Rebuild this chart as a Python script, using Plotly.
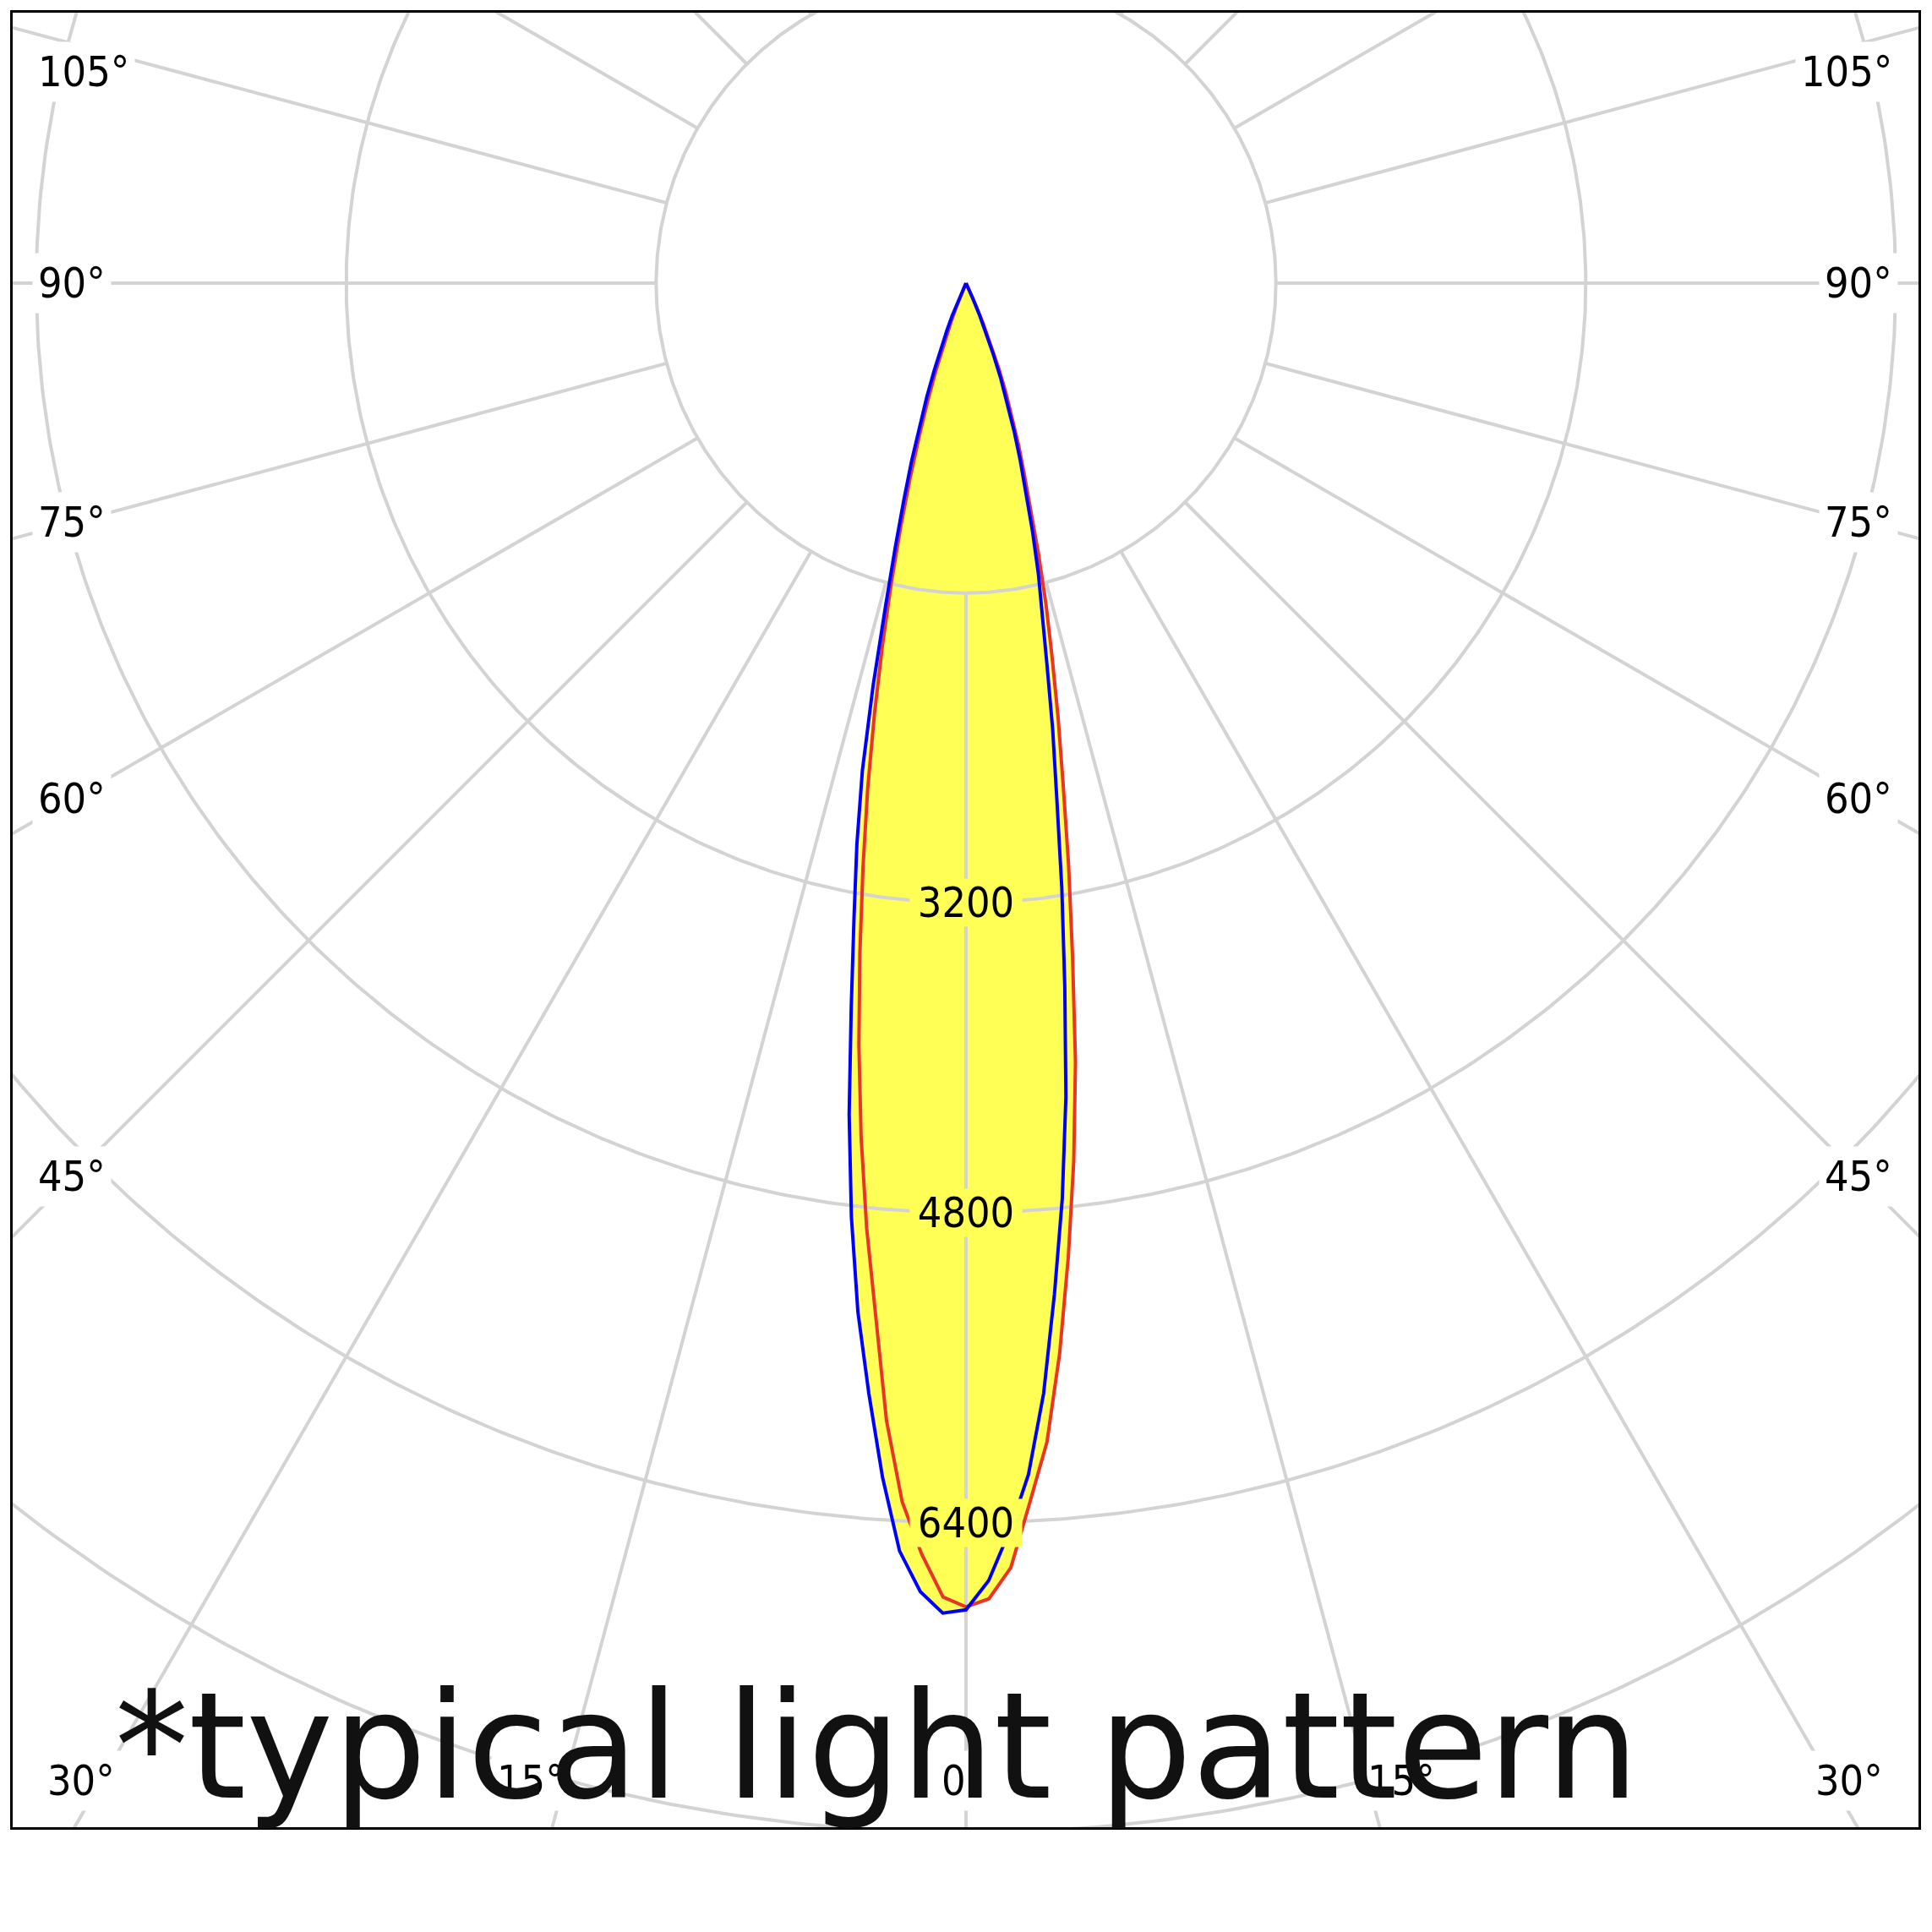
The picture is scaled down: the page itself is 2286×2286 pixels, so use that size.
import numpy as np
import plotly.graph_objects as go

# ---------------- data (candela) ----------------
ANGLES = [0, 1, 2, 3, 4, 5, 6, 7, 8, 9, 10, 11, 12, 13, 14, 15, 16, 17, 18, 19,
          20, 21, 22, 23, 24, 25, 30, 45, 60, 75, 90]
RED_RIGHT = [6835, 6794, 6636, 6303, 5997, 5548, 5055, 4566, 4062, 3517, 3051, 2625,
             2284, 1972, 1706, 1444, 1208, 1026, 878, 733, 603, 472, 350, 230, 110, 0,
             0, 0, 0, 0, 0]
RED_LEFT = [6835, 6785, 6565, 6300, 5886, 5358, 4906, 4443, 3973, 3502, 3062, 2660,
            2272, 1916, 1592, 1302, 1046, 827, 641, 477, 330, 220, 130, 60, 0, 0,
            0, 0, 0, 0, 0]
BLUE_RIGHT = [6850, 6700, 6447, 6160, 5747, 5240, 4755, 4233, 3665, 3163, 2699, 2345,
              2009, 1760, 1543, 1327, 1112, 959, 805, 663, 528, 393, 280, 180, 80, 0,
              0, 0, 0, 0, 0]
BLUE_LEFT = [6850, 6868, 6760, 6555, 6180, 5755, 5340, 4856, 4335, 3788, 3330, 2953,
             2573, 2130, 1714, 1408, 1163, 962, 771, 622, 480, 350, 260, 182, 90, 0,
             0, 0, 0, 0, 0]

RADIAL_GRID = [1600, 3200, 4800, 6400, 8000, 9600]
RADIAL_LABELS = [3200, 4800, 6400]
SPOKE_STEP = 15
ANGLE_LABELS = [0, 15, 30, 45, 60, 75, 90, 105]
CAPTION = "*typical light pattern"

# ---------------- styling / geometry (page pixels) ----------------
OFF = 8                # default body margin of the html page
W = H = 2286 - 2 * OFF
K = 0.22917            # px per candela
CX, CY = 1143, 335     # pole position in page px
PLOT_L, PLOT_R, PLOT_T, PLOT_B = 15, 2270, 15, 2162   # plot area in page px
YELLOW = "#ffff55"
RED = "#e8342a"
BLUE = "#0000ff"
GRID = "#d3d3d3"
LABEL_FONT = "DejaVu Sans Condensed, DejaVu Sans, sans-serif"


def px2d(px, py):
    return (px - CX) / K, (CY - py) / K


def polar_xy(angles_deg, values):
    t = np.radians(np.asarray(angles_deg, dtype=float))
    v = np.asarray(values, dtype=float)
    return v * np.sin(t), -v * np.cos(t)


def full_curve(left, right):
    ang = [-a for a in reversed(ANGLES)] + ANGLES[1:]
    val = list(reversed(left)) + right[1:]
    return polar_xy(ang, val)


xr = [px2d(PLOT_L, 0)[0], px2d(PLOT_R, 0)[0]]
yr = [px2d(0, PLOT_B)[1], px2d(0, PLOT_T)[1]]

fig = go.Figure()

red_x, red_y = full_curve(RED_LEFT, RED_RIGHT)
blue_x, blue_y = full_curve(BLUE_LEFT, BLUE_RIGHT)

# yellow fills
for cx_, cy_ in ((red_x, red_y), (blue_x, blue_y)):
    fig.add_trace(go.Scatter(x=cx_, y=cy_, mode="lines", fill="toself",
                             fillcolor=YELLOW, line=dict(width=0, color=YELLOW),
                             hoverinfo="skip"))

# grid circles
th = np.linspace(0, 360, 721)
gx, gy = [], []
for r in RADIAL_GRID:
    x, y = polar_xy(th, [r] * len(th))
    gx += list(x) + [None]
    gy += list(y) + [None]
# spokes (start at first circle)
for a in range(0, 360, SPOKE_STEP):
    x, y = polar_xy([a, a], [RADIAL_GRID[0], 20000])
    gx += list(x) + [None]
    gy += list(y) + [None]
fig.add_trace(go.Scatter(x=gx, y=gy, mode="lines",
                         line=dict(color=GRID, width=4), hoverinfo="skip"))

# outlines
fig.add_trace(go.Scatter(x=red_x, y=red_y, mode="lines",
                         line=dict(color=RED, width=4), hoverinfo="skip"))
fig.add_trace(go.Scatter(x=blue_x, y=blue_y, mode="lines",
                         line=dict(color=BLUE, width=4), hoverinfo="skip"))

annotations = []
# radial labels on the 0° spoke
for r in RADIAL_LABELS:
    annotations.append(dict(x=0, y=-r, xref="x", yref="y", text=str(r),
                            showarrow=False, xanchor="center", yanchor="middle",
                            font=dict(family=LABEL_FONT, size=50, color="black"),
                            bgcolor=YELLOW, width=132, height=56, borderpad=0))

# angle labels
SIDE_DX = 1057
TOP_Y, BOT_Y = 85, 2107
PAD = 6
for a in ANGLE_LABELS:
    txt = f"{a}°"
    if a >= 30:
        dy = SIDE_DX / np.tan(np.radians(a)) if a != 90 else 0.0
        py_raw = CY + dy
        py = min(max(py_raw, TOP_Y), BOT_Y)
        inset = 11 if py_raw > BOT_Y else 0
        for side in (-1, 1):
            px = (38 + inset) if side < 0 else (2246 - inset)
            x, y = px2d(px, py)
            annotations.append(dict(x=x, y=y, xref="x", yref="y", text=txt,
                                    showarrow=False,
                                    xanchor="left" if side < 0 else "right",
                                    yanchor="middle",
                                    font=dict(family=LABEL_FONT, size=50, color="black"),
                                    bgcolor="white", borderpad=PAD))
    else:
        dxp = (BOT_Y - CY) * np.tan(np.radians(a))
        sides = (0,) if a == 0 else (-1, 1)
        for side in sides:
            px = CX + side * (dxp - PAD - 1) if side != 0 else CX - 4
            x, y = px2d(px, BOT_Y)
            anchor = "center" if side == 0 else ("right" if side < 0 else "left")
            annotations.append(dict(x=x, y=y, xref="x", yref="y", text=txt,
                                    showarrow=False, xanchor=anchor, yanchor="middle",
                                    font=dict(family=LABEL_FONT, size=50, color="black"),
                                    bgcolor="white", borderpad=PAD))

# caption
cxp, cyp = px2d(134, 2066)
annotations.append(dict(x=cxp, y=cyp, xref="x", yref="y", text=CAPTION,
                        showarrow=False, xanchor="left", yanchor="middle",
                        font=dict(family="DejaVu Sans, sans-serif", size=174,
                                  color="#111111")))

axis_common = dict(showgrid=False, zeroline=False, showticklabels=False, ticks="",
                   showline=True, mirror=True, linecolor="black", linewidth=3,
                   fixedrange=True)
fig.update_layout(
    width=W, height=H,
    margin=dict(l=PLOT_L - OFF, r=W - (PLOT_R - OFF), t=PLOT_T - OFF,
                b=H - (PLOT_B - OFF), pad=0, autoexpand=False),
    paper_bgcolor="white", plot_bgcolor="white",
    showlegend=False, hovermode=False,
    xaxis=dict(range=xr, **axis_common),
    yaxis=dict(range=yr, **axis_common),
    annotations=annotations,
)

fig.write_html("out.html")
